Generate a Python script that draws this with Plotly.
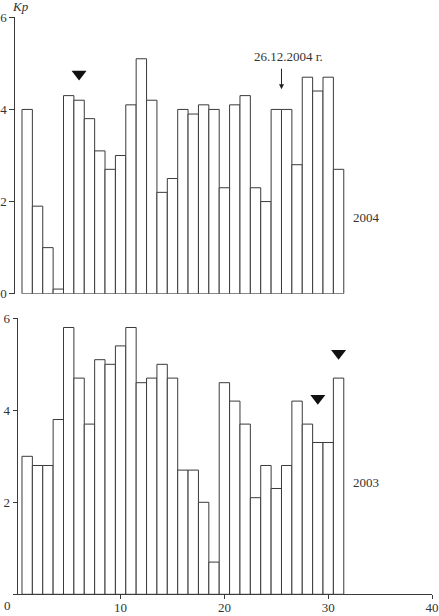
import plotly.graph_objects as go

# ---- data ----
days = list(range(1, 32))
kp_2004 = [4.0, 1.9, 1.0, 0.1, 4.3, 4.2, 3.8, 3.1, 2.7, 3.0,
           4.1, 5.1, 4.2, 2.2, 2.5, 4.0, 3.9, 4.1, 4.0, 2.3,
           4.1, 4.3, 2.3, 2.0, 4.0, 4.0, 2.8, 4.7, 4.4, 4.7, 2.7]
kp_2003 = [3.0, 2.8, 2.8, 3.8, 5.8, 4.7, 3.7, 5.1, 5.0, 5.4,
           5.8, 4.6, 4.7, 5.0, 4.7, 2.7, 2.7, 2.0, 0.7, 4.6,
           4.2, 3.7, 2.1, 2.8, 2.3, 2.8, 4.2, 3.7, 3.3, 3.3, 4.7]
marks_2004_x = [6]
marks_2004_y = [4.77]
marks_2003_x = [29, 31]
marks_2003_y = [4.26, 5.24]
x_ticks = [0, 10, 20, 30, 40]
y_ticks = [0, 2, 4, 6]
event_label = "26.12.2004 г."
event_day = 25.5

W, H = 439, 616
FONT = dict(family="Liberation Serif", size=13, color="#333")
LINE = "#3a3a3a"

fig = go.Figure()

bar_style = dict(width=1, marker=dict(color="white", line=dict(color=LINE, width=1)),
                 showlegend=False, hoverinfo="skip")
fig.add_trace(go.Bar(x=days, y=kp_2004, xaxis="x2", yaxis="y2", **bar_style))
fig.add_trace(go.Bar(x=days, y=kp_2003, xaxis="x", yaxis="y", **bar_style))

mk = dict(symbol="triangle-down", size=13, color="#111")
fig.add_trace(go.Scatter(x=marks_2004_x, y=marks_2004_y, mode="markers", marker=mk,
                         xaxis="x2", yaxis="y2", showlegend=False, hoverinfo="skip"))
fig.add_trace(go.Scatter(x=marks_2003_x, y=marks_2003_y, mode="markers", marker=mk,
                         xaxis="x", yaxis="y", showlegend=False, hoverinfo="skip"))

x_dom = [16.8 / W, 432 / W]
top_dom = [(H - 293.7) / H, (H - 17.3) / H]
bot_dom = [(H - 594.3) / H, (H - 318.3) / H]

fig.update_layout(
    width=W, height=H,
    margin=dict(l=0, r=0, t=0, b=0, pad=0),
    paper_bgcolor="white", plot_bgcolor="rgba(0,0,0,0)",
    font=FONT,
    xaxis=dict(domain=x_dom, range=[0, 40], tickvals=x_ticks[1:],
               showline=True, linecolor=LINE, linewidth=1,
               ticks="outside", ticklen=4, tickcolor=LINE, ticklabelstandoff=-3,
               showgrid=False, zeroline=False, anchor="y", tickfont=FONT,
               automargin=False),
    yaxis=dict(domain=bot_dom, range=[0, 6], tickvals=y_ticks,
               ticktext=["", "2", "4", "6"],
               showline=True, linecolor=LINE, linewidth=1,
               ticks="outside", ticklen=4, tickcolor=LINE,
               showgrid=False, zeroline=False, anchor="free", position=16.7 / W,
               tickfont=FONT, automargin=False),
    xaxis2=dict(domain=x_dom, range=[0, 40], showline=False, showticklabels=False,
                ticks="", showgrid=False, zeroline=False, anchor="y2", automargin=False),
    yaxis2=dict(domain=top_dom, range=[0, 6], tickvals=y_ticks,
                showline=True, linecolor=LINE, linewidth=1,
                ticks="outside", ticklen=5, tickcolor=LINE,
                showgrid=False, zeroline=False, anchor="free", position=14.3 / W,
                tickfont=FONT, automargin=False),
    annotations=[
        dict(xref="paper", yref="paper", x=20.5 / W, y=(H - 6.5) / H, text="<i>Kp</i>",
             showarrow=False, font=FONT, xanchor="center", yanchor="middle"),
        dict(xref="paper", yref="paper", x=7.7 / W, y=(H - 605) / H, text="0",
             showarrow=False, font=FONT, xanchor="center", yanchor="middle"),
        dict(xref="x2", yref="y2", x=33.7, y=1.66, text="2004", showarrow=False,
             font=FONT, xanchor="center", yanchor="middle"),
        dict(xref="x", yref="y", x=33.6, y=2.44, text="2003", showarrow=False,
             font=FONT, xanchor="center", yanchor="middle"),
        dict(xref="x2", yref="y2", x=26.2, y=5.14, text=event_label, showarrow=False,
             font=FONT, xanchor="center", yanchor="middle"),
        dict(xref="x2", yref="y2", x=event_day, y=4.44, text="", showarrow=True,
             ax=0, ay=-22, arrowhead=2, arrowsize=1, arrowwidth=1, arrowcolor="#222"),
    ],
)

fig.write_html("out.html", config={"displayModeBar": False},
               post_script="document.body.style.margin='0';")
